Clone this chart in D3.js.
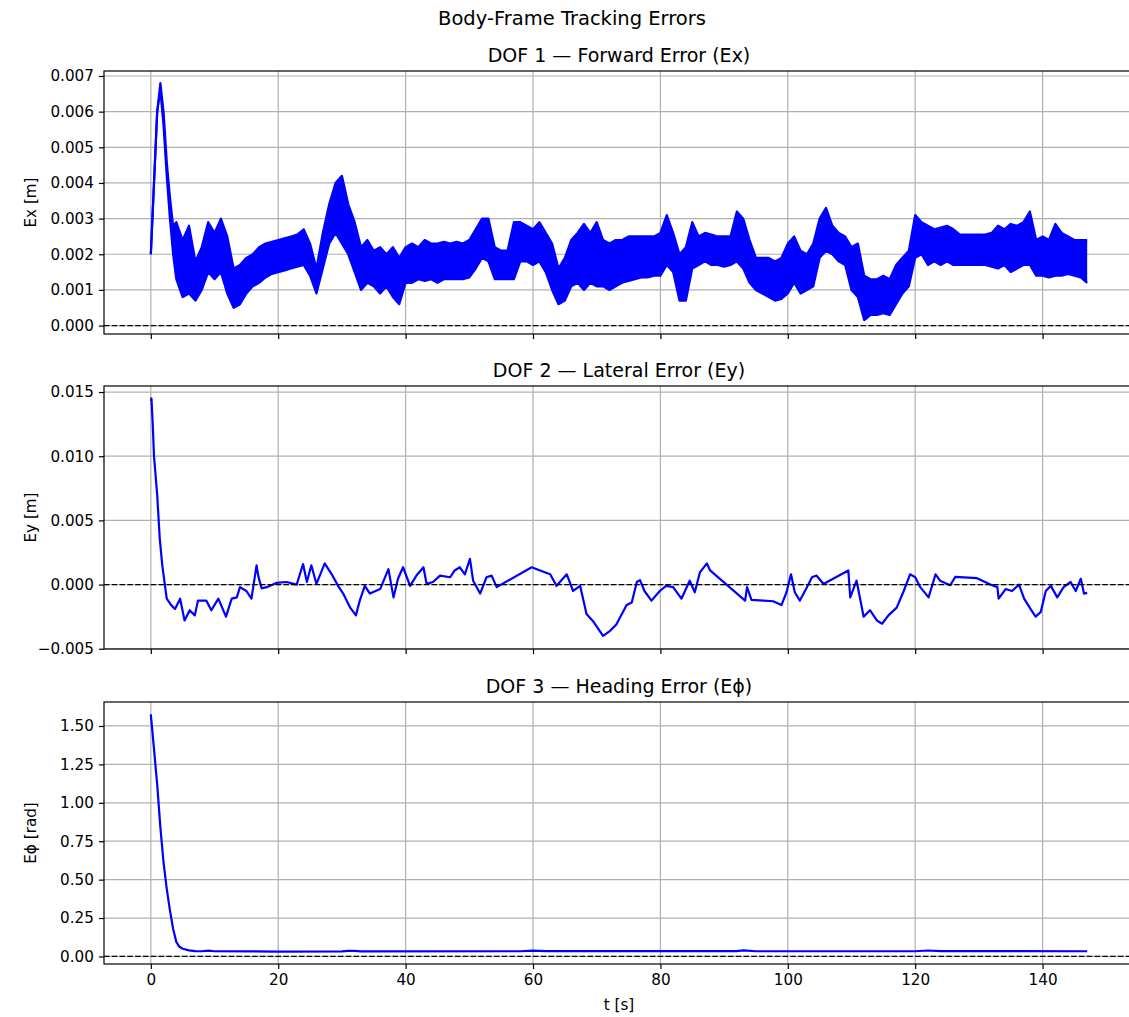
<!DOCTYPE html>
<html>
<head>
<meta charset="utf-8">
<script src="https://cdn.jsdelivr.net/npm/d3@7"></script>
<style>
  body { margin: 0; background: #fff; }
  svg { display: block; font-family: "DejaVu Sans", sans-serif; }
</style>
</head>
<body>
<div id="chart"></div>
<script>
// Ex: thick oscillating band, kept as upper / lower envelope per sample time
const exT = [0, 0.5, 1, 1.5, 2, 2.5, 3, 3.5,
  4, 5, 6, 7, 8, 9, 10, 11, 12, 13, 14, 15, 16, 17, 18, 19, 20,
  21, 22, 23, 24, 25, 26, 27, 28, 29, 30, 31, 32, 33, 34, 35, 36, 37, 38, 39, 40,
  41, 42, 43, 44, 45, 46, 47, 48, 49, 50, 51, 52, 53, 54, 55, 56, 57, 58, 59, 60,
  61, 62, 63, 64, 65, 66, 67, 68, 69, 70, 71, 72, 73, 74, 75, 76, 77, 78, 79, 80,
  81, 82, 83, 84, 85, 86, 87, 88, 89, 90, 91, 92, 93, 94, 95, 96, 97, 98, 99, 100,
  101, 102, 103, 104, 105, 106, 107, 108, 109, 110, 111, 112, 113, 114, 115, 116, 117, 118, 119, 120,
  121, 122, 123, 124, 125, 126, 127, 128, 129, 130, 131, 132, 133, 134, 135, 136, 137, 138, 139, 140,
  141, 142, 143, 144, 145, 146, 147];
const exHi = [0.0020, 0.0040, 0.0060, 0.0068, 0.0060, 0.0046, 0.0036, 0.0028,
  0.0029, 0.0024, 0.0028, 0.0018, 0.0022, 0.0029, 0.0026, 0.0030, 0.0025, 0.0016, 0.0017, 0.0019, 0.0020, 0.0022, 0.0023, 0.00235, 0.0024,
  0.00245, 0.0025, 0.00255, 0.0027, 0.0023, 0.0016, 0.0026, 0.0034, 0.0040, 0.0042, 0.0034, 0.0029, 0.0022, 0.0024, 0.0021, 0.0022, 0.0020, 0.0022, 0.0019, 0.0022,
  0.0023, 0.0022, 0.0024, 0.0023, 0.0023, 0.00235, 0.0023, 0.00235, 0.0023, 0.0024, 0.0027, 0.0030, 0.0030, 0.0022, 0.0021, 0.0021, 0.0029, 0.0029, 0.0028, 0.0027,
  0.0029, 0.0026, 0.0023, 0.0016, 0.0019, 0.0024, 0.0026, 0.00285, 0.0026, 0.0029, 0.0024, 0.0023, 0.0024, 0.0024, 0.0025, 0.0025, 0.0025, 0.0025, 0.0025, 0.0026,
  0.0031, 0.0026, 0.0020, 0.0022, 0.0029, 0.0025, 0.0026, 0.00255, 0.0025, 0.0025, 0.0025, 0.0032, 0.0030, 0.0024, 0.0019, 0.0019, 0.0019, 0.0018, 0.0019, 0.0023,
  0.0025, 0.0021, 0.0020, 0.0023, 0.0030, 0.0033, 0.0028, 0.0026, 0.0025, 0.0022, 0.0023, 0.0014, 0.0013, 0.0013, 0.0014, 0.0013, 0.0017, 0.0019, 0.0021, 0.0031,
  0.0029, 0.0028, 0.0027, 0.00275, 0.0028, 0.0027, 0.00255, 0.00255, 0.00255, 0.00255, 0.00255, 0.0026, 0.0028, 0.0027, 0.00285, 0.0028, 0.0029, 0.0032, 0.0024, 0.0025,
  0.0024, 0.00285, 0.0026, 0.0025, 0.0024, 0.0024, 0.0024];
const exLo = [0.0020, 0.0040, 0.0060, 0.0066, 0.0056, 0.0042, 0.0030, 0.0020,
  0.0013, 0.0008, 0.0009, 0.0007, 0.0010, 0.0015, 0.0013, 0.0015, 0.0009, 0.0005, 0.0006, 0.0009, 0.0011, 0.0012, 0.00135, 0.00145, 0.0015,
  0.00155, 0.0016, 0.00165, 0.0017, 0.0014, 0.0009, 0.0016, 0.0023, 0.0026, 0.0023, 0.0020, 0.0015, 0.0010, 0.0012, 0.0011, 0.0009, 0.0011, 0.0008, 0.0006, 0.0012,
  0.0012, 0.0013, 0.00125, 0.0013, 0.0012, 0.0013, 0.0013, 0.0013, 0.0013, 0.00135, 0.0016, 0.0019, 0.0018, 0.0013, 0.0013, 0.0013, 0.0013, 0.0018, 0.0018, 0.0017,
  0.0018, 0.0015, 0.0010, 0.0006, 0.0007, 0.0011, 0.0012, 0.0010, 0.0012, 0.0011, 0.0011, 0.0010, 0.0011, 0.0012, 0.00125, 0.0013, 0.00135, 0.00135, 0.0014, 0.0014,
  0.0017, 0.0015, 0.0007, 0.0007, 0.0016, 0.0017, 0.0018, 0.0017, 0.0017, 0.00165, 0.0017, 0.0018, 0.0016, 0.0012, 0.0010, 0.0009, 0.0008, 0.0007, 0.00075, 0.0009,
  0.0012, 0.0009, 0.0010, 0.0011, 0.0019, 0.0021, 0.0020, 0.0018, 0.0017, 0.0010, 0.0008, 0.00015, 0.0003, 0.0003, 0.00035, 0.0003, 0.0006, 0.0009, 0.0011, 0.0019,
  0.0020, 0.0017, 0.0018, 0.0017, 0.0018, 0.0017, 0.0017, 0.0017, 0.0017, 0.0017, 0.0017, 0.00165, 0.0016, 0.0017, 0.0015, 0.0016, 0.0017, 0.0017, 0.0014, 0.0014,
  0.00135, 0.0014, 0.0014, 0.00145, 0.0014, 0.00135, 0.0012];

// Ey: lateral error
const eyT = [0, 0.1, 0.3, 0.5, 1.0, 1.4, 1.8, 2.2, 2.5, 3.2, 3.8, 4.6, 5.3, 6.1, 6.9, 7.4, 8.7, 9.5, 10.6, 11.8,
  12.7, 13.5, 14.0, 15.0, 15.8, 16.6, 16.9, 17.4, 18.2, 19.7, 21.3, 22.9, 23.4, 23.9, 24.5, 25.2, 26.0, 27.3, 28.4, 29.4,
  30.2, 31.3, 32.2, 32.8, 33.6, 34.4, 36.0, 37.3, 38.1, 38.8, 39.6, 40.7, 41.7, 42.8, 43.3, 44.3, 45.4, 47.0, 47.7, 48.5,
  49.3, 50.1, 50.6, 51.7, 52.7, 53.5, 54.3, 59.8, 61.1, 62.7, 63.7, 65.3, 66.3, 67.4, 68.4, 69.5, 71.0, 72.1, 73.1, 74.7,
  75.5, 76.3, 76.8, 77.5, 78.6, 79.9, 80.9, 82.0, 83.3, 84.6, 85.4, 86.2, 87.3, 87.8, 93.3, 93.6, 94.3, 96.2, 97.7, 99.0,
  99.8, 100.5, 101.1, 101.9, 103.0, 103.8, 104.5, 105.6, 109.5, 109.8, 110.8, 111.9, 112.9, 114.0, 114.8, 115.8, 117.1, 118.2, 119.2, 120.0,
  120.8, 122.1, 123.2, 123.9, 125.5, 126.3, 129.7, 131.8, 132.9, 133.1, 134.2, 135.2, 136.3, 137.1, 138.1, 138.9, 139.7, 140.5, 141.3, 142.3,
  143.3, 144.4, 145.2, 146.0, 146.5, 147.0];
const eyV = [0.0143, 0.0145, 0.0125, 0.0100, 0.0070, 0.0036, 0.0015, 0.0000, -0.0011, -0.0016, -0.0019, -0.0011, -0.0028, -0.0020, -0.0024, -0.00125, -0.00125, -0.0020, -0.0011, -0.0025,
  -0.0011, -0.0010, -0.0002, -0.0005, -0.0011, 0.0015, 0.0006, -0.0003, -0.0002, 0.00013, 0.0002, 0.0000, 0.0008, 0.0016, 0.0002, 0.0015, 0.00005, 0.00165, 0.0008, -0.0001,
  -0.0007, -0.0018, -0.0024, -0.00125, -0.0001, -0.0007, -0.00035, 0.0012, -0.0010, 0.00045, 0.00135, -0.0001, 0.0007, 0.00135, 0.00005, 0.0002, 0.0007, 0.00057, 0.0011, 0.00135,
  0.0008, 0.0020, 0.0003, -0.0007, 0.00057, 0.0007, -0.0002, 0.00135, 0.0011, 0.0008, -0.0001, 0.0008, -0.0005, -0.0001, -0.0023, -0.0029, -0.0040, -0.0036, -0.0031, -0.0016,
  -0.0014, 0.0002, 0.00035, -0.0005, -0.00125, -0.0005, -0.0001, -0.0002, -0.0011, 0.0003, -0.0006, 0.00095, 0.00165, 0.0011, -0.00125, -0.0002, -0.0012, -0.00125, -0.0013, -0.0016,
  -0.0006, 0.0008, -0.0006, -0.00125, -0.0002, 0.00057, 0.0007, 0.00005, 0.0011, -0.0010, 0.0003, -0.0025, -0.0020, -0.0028, -0.00305, -0.0024, -0.0018, -0.0005, 0.0008, 0.00057,
  -0.0002, -0.0010, 0.0008, 0.0003, -0.00005, 0.0006, 0.0005, 0.0000, -0.0002, -0.0011, -0.00035, -0.0005, 0.0000, -0.0011, -0.0019, -0.0025, -0.00215, -0.0005, -0.0001, -0.0010,
  -0.0002, 0.0002, -0.0005, 0.00045, -0.0007, -0.00065];

// Ephi: heading error
const ephiT = [0, 0.5, 1.0, 1.5, 2.0, 2.5, 3.0, 3.5, 4.0, 4.5, 5, 6, 7, 8, 9, 10, 20, 30, 31, 32, 33,
  58, 60, 62, 92, 93, 95, 120, 122, 124, 147];
const ephiV = [1.575, 1.35, 1.12, 0.84, 0.61, 0.44, 0.30, 0.18, 0.095, 0.063, 0.050, 0.040, 0.035, 0.034, 0.038, 0.034, 0.032, 0.033, 0.037, 0.036, 0.033,
  0.034, 0.038, 0.035, 0.035, 0.040, 0.034, 0.034, 0.039, 0.035, 0.034];

const xTicks = [0, 20, 40, 60, 80, 100, 120, 140];

const W = 1129, H = 1017;
const left = 104, right = 1134;
const fontSize = 15.2;
const titleSize = 19;

const svg = d3.select("#chart").append("svg")
  .attr("width", W).attr("height", H);

const x = d3.scaleLinear().domain([-7.35, 154.35]).range([left, right]);

svg.append("text")
  .attr("x", 572).attr("y", 25)
  .attr("text-anchor", "middle")
  .attr("font-size", "19.5px")
  .text("Body-Frame Tracking Errors");

function drawPanel(p) {
  const y = d3.scaleLinear().domain(p.domain).range([p.bottom, p.top]);
  const g = svg.append("g");

  g.append("clipPath").attr("id", "clip" + p.id)
    .append("rect")
    .attr("x", left).attr("y", p.top)
    .attr("width", right - left).attr("height", p.bottom - p.top);

  // grid
  g.selectAll(".gx").data(xTicks).enter().append("line")
    .attr("x1", d => x(d)).attr("x2", d => x(d))
    .attr("y1", p.top).attr("y2", p.bottom)
    .attr("stroke", "#b0b0b0").attr("stroke-width", 1.2);
  g.selectAll(".gy").data(p.yTicks).enter().append("line")
    .attr("x1", left).attr("x2", right)
    .attr("y1", d => y(d)).attr("y2", d => y(d))
    .attr("stroke", "#b0b0b0").attr("stroke-width", 1.2);

  const plot = g.append("g").attr("clip-path", `url(#clip${p.id})`);
  p.draw(plot, y);

  // zero reference
  plot.append("line")
    .attr("x1", left).attr("x2", right)
    .attr("y1", y(0)).attr("y2", y(0))
    .attr("stroke", "#000").attr("stroke-width", 1.2)
    .attr("stroke-dasharray", "5.4,2.4");

  // spines
  g.append("rect")
    .attr("x", left).attr("y", p.top)
    .attr("width", right - left).attr("height", p.bottom - p.top)
    .attr("fill", "none").attr("stroke", "#000").attr("stroke-width", 1.2);

  // y axis
  const yAxis = d3.axisLeft(y).tickValues(p.yTicks)
    .tickFormat(d3.format(p.fmt)).tickSizeInner(5.1).tickSizeOuter(0).tickPadding(5);
  const ya = g.append("g").attr("transform", `translate(${left},0)`).call(yAxis);
  ya.select(".domain").remove();
  ya.selectAll("line").attr("stroke", "#000").attr("stroke-width", 1.2);
  ya.selectAll("text").attr("font-size", fontSize + "px").attr("fill", "#000")
    .attr("font-family", "DejaVu Sans");

  // x axis
  const xAxis = d3.axisBottom(x).tickValues(xTicks)
    .tickFormat(p.xLabels ? d3.format("d") : "").tickSizeInner(5.1).tickSizeOuter(0).tickPadding(5);
  const xa = g.append("g").attr("transform", `translate(0,${p.bottom})`).call(xAxis);
  xa.select(".domain").remove();
  xa.selectAll("line").attr("stroke", "#000").attr("stroke-width", 1.2);
  xa.selectAll("text").attr("font-size", fontSize + "px").attr("fill", "#000")
    .attr("font-family", "DejaVu Sans");

  g.append("text")
    .attr("x", (left + right) / 2).attr("y", p.top - 9)
    .attr("text-anchor", "middle").attr("font-size", titleSize + "px")
    .text(p.title);

  g.append("text")
    .attr("transform", `translate(36,${(p.top + p.bottom) / 2}) rotate(-90)`)
    .attr("text-anchor", "middle").attr("font-size", fontSize + "px")
    .text(p.ylabel);
}

const blueLine = (sel) => sel.attr("fill", "none").attr("stroke", "#0000ff")
  .attr("stroke-width", 2.2).attr("stroke-linejoin", "round");

drawPanel({
  id: 1, top: 71, bottom: 334, domain: [-0.000236, 0.00714],
  yTicks: [0, 0.001, 0.002, 0.003, 0.004, 0.005, 0.006, 0.007], fmt: ".3f",
  title: "DOF 1 — Forward Error (Ex)", ylabel: "Ex [m]", xLabels: false,
  draw: (plot, y) => {
    const idx = d3.range(exT.length);
    plot.append("path").datum(idx)
      .attr("d", d3.area().x(i => x(exT[i])).y0(i => y(exLo[i])).y1(i => y(exHi[i])))
      .attr("fill", "#0000ff");
    plot.append("path").datum(idx)
      .attr("d", d3.line().x(i => x(exT[i])).y(i => y(exHi[i]))).call(blueLine);
    plot.append("path").datum(idx)
      .attr("d", d3.line().x(i => x(exT[i])).y(i => y(exLo[i]))).call(blueLine);
  }
});

drawPanel({
  id: 2, top: 386, bottom: 649, domain: [-0.00502, 0.01547],
  yTicks: [-0.005, 0, 0.005, 0.010, 0.015], fmt: ".3f",
  title: "DOF 2 — Lateral Error (Ey)", ylabel: "Ey [m]", xLabels: false,
  draw: (plot, y) => {
    plot.append("path").datum(d3.range(eyT.length))
      .attr("d", d3.line().x(i => x(eyT[i])).y(i => y(eyV[i]))).call(blueLine);
  }
});

drawPanel({
  id: 3, top: 702, bottom: 964, domain: [-0.049, 1.656],
  yTicks: [0, 0.25, 0.5, 0.75, 1.0, 1.25, 1.5], fmt: ".2f",
  title: "DOF 3 — Heading Error (Eϕ)", ylabel: "Eϕ [rad]", xLabels: true,
  draw: (plot, y) => {
    plot.append("path").datum(d3.range(ephiT.length))
      .attr("d", d3.line().x(i => x(ephiT[i])).y(i => y(ephiV[i]))).call(blueLine);
  }
});

svg.append("text")
  .attr("x", (left + right) / 2).attr("y", 1010)
  .attr("text-anchor", "middle").attr("font-size", fontSize + "px")
  .text("t [s]");
</script>
</body>
</html>
